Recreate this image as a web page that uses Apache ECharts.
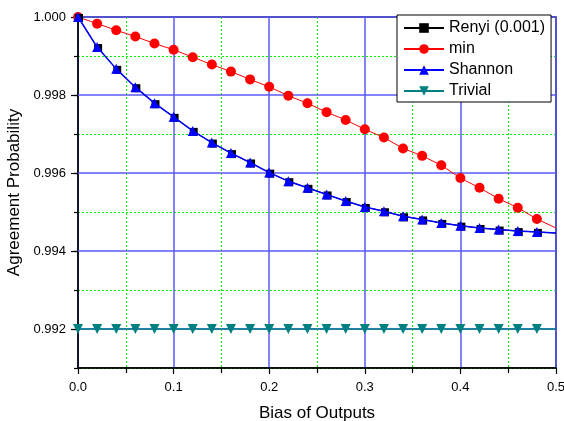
<!DOCTYPE html>
<html>
<head>
<meta charset="utf-8">
<script src="https://cdn.jsdelivr.net/npm/echarts@6/dist/echarts.min.js"></script>
<style>html,body{margin:0;padding:0;background:#fff;}#c{width:564px;height:421px;}</style>
</head>
<body>
<div id="c"></div>
<script>
// x positions (markers every 0.02; last point 0.5 is the curve end, no marker)
const xValues = [0,0.02,0.04,0.06,0.08,0.10,0.12,0.14,0.16,0.18,0.20,0.22,0.24,0.26,0.28,0.30,0.32,0.34,0.36,0.38,0.40,0.42,0.44,0.46,0.48,0.50];
const renyiValues = [1.0000,0.99923,0.99867,0.99820,0.99779,0.99744,0.99708,0.99678,0.99651,0.99627,0.99601,0.99579,0.99562,0.99545,0.99528,0.99513,0.99502,0.99489,0.99481,0.99472,0.99465,0.99459,0.99455,0.99451,0.99449,0.99446];
const minValues = [1.0000,0.99983,0.99966,0.99950,0.99932,0.99916,0.99897,0.99878,0.99860,0.99840,0.99821,0.99798,0.99779,0.99756,0.99736,0.99712,0.99691,0.99663,0.99644,0.99620,0.99587,0.99562,0.99534,0.99511,0.99482,0.99459];
const shannonValues = [1.0000,0.99923,0.99867,0.99820,0.99779,0.99744,0.99708,0.99678,0.99651,0.99627,0.99601,0.99579,0.99562,0.99545,0.99528,0.99513,0.99502,0.99489,0.99481,0.99472,0.99465,0.99459,0.99455,0.99451,0.99449,0.99446];
const trivialValues = [0.992,0.992,0.992,0.992,0.992,0.992,0.992,0.992,0.992,0.992,0.992,0.992,0.992,0.992,0.992,0.992,0.992,0.992,0.992,0.992,0.992,0.992,0.992,0.992,0.992,0.992];
const seriesNames = ['Renyi (0.001)','min','Shannon','Trivial'];

const FONT = 'Liberation Sans, Arial, sans-serif';
const BLUE_GRID = '#5a5aff';
const GREEN_GRID = '#00ee00';
function build(vals){
  const last = xValues.length - 1;
  return xValues.map((x,i)=> i===last ? {value:[x, vals[i]], symbol:'none'} : [x, vals[i]]);
}
const chart = echarts.init(document.getElementById('c'), null, {renderer:'canvas'});
chart.setOption({
  animation:false,
  backgroundColor:'#ffffff',
  grid:[
    {left:78, right:8, top:17, bottom:53, show:true, borderColor:'#000', borderWidth:1.5, backgroundColor:'transparent', outerBoundsMode:'none', containLabel:false},
    // overlay grid: spans 0.992..1.000 (same scale) for major labels, ticks and blue grid lines
    {left:78, right:8, top:17, bottom:92, show:false, outerBoundsMode:'none', containLabel:false}
  ],
  legend:{
    data: seriesNames,
    orient:'vertical', left:397, top:15,
    itemWidth:40, itemHeight:12, itemGap:5,
    padding:[5,6,3,6],
    backgroundColor:'#fff', borderColor:'#000', borderWidth:1,
    textStyle:{fontFamily:FONT, fontSize:16, color:'#000'},
    z:10
  },
  xAxis:[{
    gridIndex:0, type:'value', min:0, max:0.5, interval:0.1,
    name:'Bias of Outputs', nameLocation:'middle', nameGap:37,
    nameTextStyle:{fontFamily:FONT, fontSize:17, color:'#000'},
    axisLine:{show:true, onZero:false, lineStyle:{color:'#000', width:1.5}},
    axisTick:{show:true, inside:false, length:6, lineStyle:{color:'#000', width:1.2}},
    minorTick:{show:true, splitNumber:2, length:5, lineStyle:{color:'#000', width:1.2}},
    axisLabel:{fontFamily:FONT, fontSize:13, color:'#000', margin:13, formatter:v=>v.toFixed(1)},
    splitLine:{show:true, lineStyle:{color:BLUE_GRID, width:1.5, type:'solid'}},
    minorSplitLine:{show:true, lineStyle:{color:GREEN_GRID, width:1, type:[2,2]}}
  },{
    gridIndex:1, type:'value', min:0, max:0.5, show:false
  }],
  yAxis:[{
    gridIndex:0, type:'value', min:0.991, max:1.0, interval:0.001, z:0,
    name:'Agreement Probability', nameLocation:'middle', nameGap:55,
    nameTextStyle:{fontFamily:FONT, fontSize:17, color:'#000'},
    axisLine:{show:true, onZero:false, lineStyle:{color:'#000', width:1.5}},
    axisTick:{show:true, inside:false, length:4, lineStyle:{color:'#000', width:1.2}},
    axisLabel:{show:false},
    splitLine:{show:true, lineStyle:{color:[GREEN_GRID,'rgba(0,0,0,0)'], width:1, type:[2,2]}}
  },{
    gridIndex:1, type:'value', min:0.992, max:1.0, interval:0.002, position:'left', z:1,
    axisLine:{show:false},
    axisTick:{show:true, inside:false, length:7, lineStyle:{color:'#000', width:1.2}},
    axisLabel:{show:true, fontFamily:FONT, fontSize:13, color:'#000', margin:12, formatter:v=>v.toFixed(3)},
    splitLine:{show:true, lineStyle:{color:BLUE_GRID, width:1.5, type:'solid'}}
  }],
  series:[
    {name:'Trivial', type:'line', xAxisIndex:0, yAxisIndex:0, data:build(trivialValues), z:3,
     symbol:'triangle', symbolRotate:180, symbolSize:10,
     lineStyle:{color:'#008080', width:1.5}, itemStyle:{color:'#008080'}},
    {name:'min', type:'line', xAxisIndex:0, yAxisIndex:0, data:build(minValues), z:4,
     symbol:'circle', symbolSize:10,
     lineStyle:{color:'#ff0000', width:1}, itemStyle:{color:'#ff0000'}},
    {name:'Renyi (0.001)', type:'line', xAxisIndex:0, yAxisIndex:0, data:build(renyiValues), z:5,
     symbol:'rect', symbolSize:8, symbolOffset:[1,1],
     lineStyle:{color:'#000', width:1}, itemStyle:{color:'#000'}},
    {name:'Shannon', type:'line', xAxisIndex:0, yAxisIndex:0, data:build(shannonValues), z:6,
     symbol:'triangle', symbolSize:10,
     lineStyle:{color:'#0000ff', width:1.5}, itemStyle:{color:'#0000ff'}}
  ]
});
</script>
</body>
</html>
